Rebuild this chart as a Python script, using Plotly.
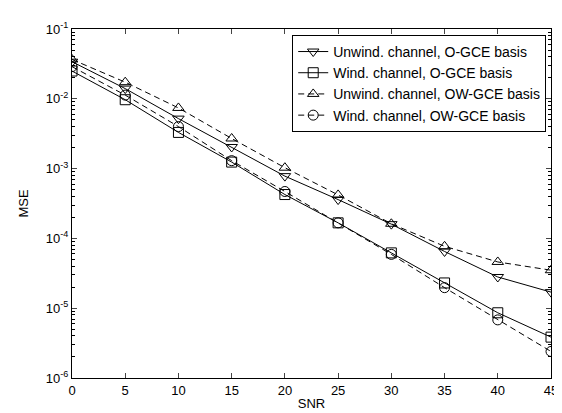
import plotly.graph_objects as go
import numpy as np

snr = [0, 5, 10, 15, 20, 25, 30, 35, 40, 45]
unwind_ogce = [0.034, 0.0140, 0.0052, 0.00204, 0.00078, 0.00036, 0.000160, 6.5e-5, 2.8e-5, 1.7e-5]
wind_ogce = [0.025, 0.0097, 0.0033, 0.00124, 0.000425, 0.000167, 6.2e-5, 2.3e-5, 8.6e-6, 3.85e-6]
unwind_owgce = [0.0366, 0.0173, 0.0074, 0.0027, 0.00103, 0.00042, 0.000162, 7.7e-5, 4.6e-5, 3.5e-5]
wind_owgce = [0.0289, 0.0113, 0.0040, 0.0013, 0.00047, 0.000167, 5.9e-5, 1.97e-5, 6.8e-6, 2.4e-6]

names = ["Unwind. channel, O-GCE basis", "Wind. channel, O-GCE basis",
         "Unwind. channel, OW-GCE basis", "Wind. channel, OW-GCE basis"]
series = [unwind_ogce, wind_ogce, unwind_owgce, wind_owgce]
symbols = ["triangle-down-open", "square-open", "triangle-up-open", "circle-open"]
dashes = ["solid", "solid", "6px,4px", "6px,4px"]

ytick_vals = [1e-6, 1e-5, 1e-4, 1e-3, 1e-2, 1e-1]
ytick_text = ["10<sup>-6</sup>", "10<sup>-5</sup>", "10<sup>-4</sup>", "10<sup>-3</sup>", "10<sup>-2</sup>", "10<sup>-1</sup>"]
xtick_vals = [0, 5, 10, 15, 20, 25, 30, 35, 40, 45]

fig = go.Figure()
for n, s, sym, d in zip(names, series, symbols, dashes):
    fig.add_trace(go.Scatter(
        x=snr, y=s, name=n, mode="lines+markers",
        line=dict(color="black", width=1, dash=d),
        marker=dict(symbol=sym, size=10, color="black", line=dict(width=1, color="black")),
    ))

minor_vals = [m * 10.0 ** e for e in range(-6, -1) for m in range(2, 10)]

fig.update_layout(
    width=562, height=413,
    margin=dict(l=64, r=12, t=18, b=36),
    paper_bgcolor="white", plot_bgcolor="white",
    font=dict(family="Liberation Sans, Arial, sans-serif", size=13, color="black"),
    showlegend=True,
    legend=dict(
        x=0.99, y=0.983, xanchor="right", yanchor="top",
        bgcolor="white", bordercolor="black", borderwidth=1,
        font=dict(size=14), tracegroupgap=0, itemwidth=30,
    ),
    xaxis=dict(
        range=[0, 45], tickvals=xtick_vals, ticks="inside", ticklen=5,
        showline=True, linecolor="black", linewidth=1, mirror="ticks",
        showgrid=False, zeroline=False,
        title=dict(text="SNR", standoff=2, font=dict(size=13)),
    ),
    yaxis=dict(
        type="log", range=[-6, -1], tickvals=ytick_vals, ticktext=ytick_text,
        ticks="inside", ticklen=5,
        showline=True, linecolor="black", linewidth=1, mirror="ticks",
        showgrid=False, zeroline=False,
        minor=dict(tickvals=minor_vals, ticks="inside", ticklen=3, tickcolor="black", showgrid=False),
        title=dict(text="MSE", standoff=14, font=dict(size=13)),
    ),
)

fig.write_html("out.html")
